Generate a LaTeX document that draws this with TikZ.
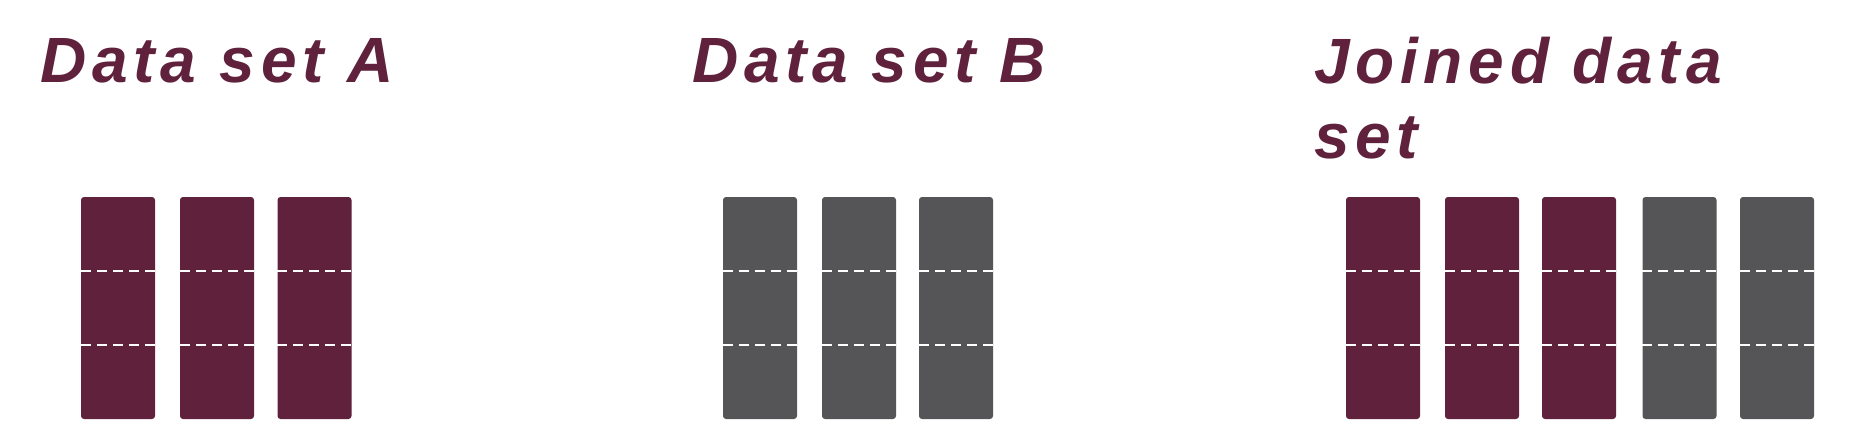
\documentclass[tikz,border=0pt]{standalone}
\usepackage{fontspec}
\setmainfont{Liberation Sans}
\usetikzlibrary{calc}
\definecolor{maroon}{HTML}{5F213B}
\definecolor{slate}{HTML}{555557}
\newfontfamily\titlefont[LetterSpace=9]{Liberation Sans}
\begin{document}
\begin{tikzpicture}[x=1pt,y=-1pt,
  col/.style={rectangle, rounded corners=3pt, minimum width=74pt, minimum height=222pt, inner sep=0pt, draw=none},
  colA/.style={col, fill=maroon},
  colB/.style={col, fill=slate},
  divider/.style={white, line width=2.2pt, dash pattern=on 10pt off 6pt},
  ttl/.style={anchor=base west, inner sep=0pt, text=maroon, font=\titlefont\fontsize{64pt}{75pt}\selectfont\bfseries\itshape, align=left}
]
\useasboundingbox (0,0) rectangle (1873,425);
\node[ttl] (ta) at (40,83) {Data set A};
\node[ttl] (tb) at (692,83) {Data set B};
\node[ttl] (tj) at (1314,158) {Joined data\\set};
\node[colA] (a1) at (118,308) {};
\node[colA] (a2) at (217,308) {};
\node[colA] (a3) at (314.5,308) {};
\node[colB] (b1) at (760,308) {};
\node[colB] (b2) at (859,308) {};
\node[colB] (b3) at (956,308) {};
\node[colA] (j1) at (1383,308) {};
\node[colA] (j2) at (1482,308) {};
\node[colA] (j3) at (1579,308) {};
\node[colB] (j4) at (1679.5,308) {};
\node[colB] (j5) at (1777,308) {};
\foreach \n in {a1,a2,a3,b1,b2,b3,j1,j2,j3,j4,j5}{
  \draw[divider] ($(\n.north west)!1/3!(\n.south west)$) -- ($(\n.north east)!1/3!(\n.south east)$);
  \draw[divider] ($(\n.north west)!2/3!(\n.south west)$) -- ($(\n.north east)!2/3!(\n.south east)$);
}
\end{tikzpicture}
\end{document}
